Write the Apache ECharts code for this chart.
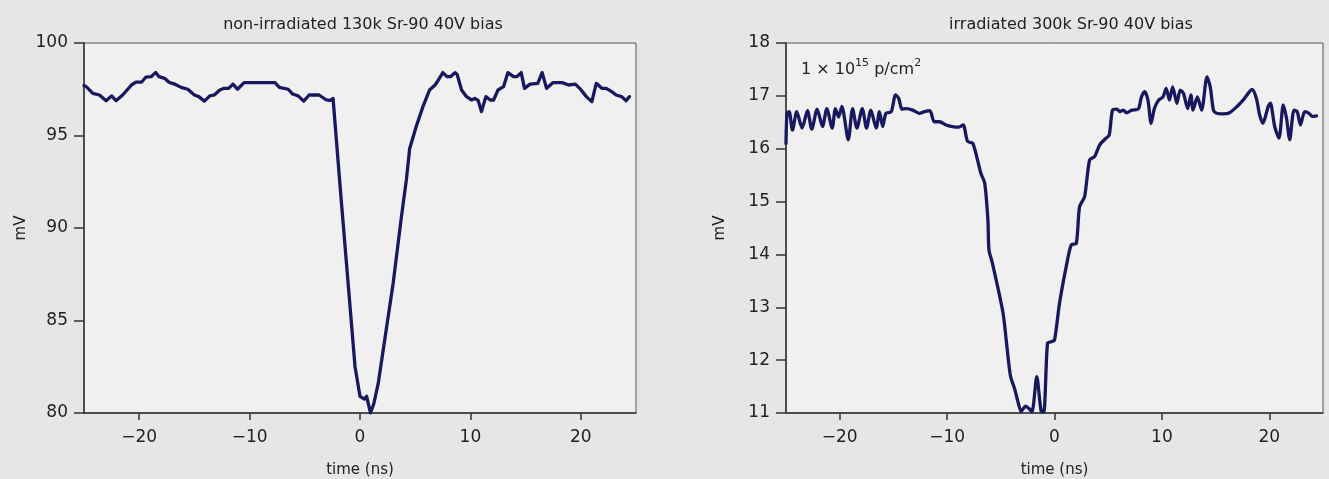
<!DOCTYPE html>
<html>
<head>
<meta charset="utf-8">
<script src="https://cdn.jsdelivr.net/npm/echarts@6/dist/echarts.min.js"></script>
<style>
html,body{margin:0;padding:0;background:#e6e6e6;}
#chart{width:1329px;height:479px;}
</style>
</head>
<body>
<div id="chart"></div>
<script>
// ---- data ----
const xTickValues = [-20, -10, 0, 10, 20];

const leftTitle = 'non-irradiated 130k Sr-90 40V bias';
const rightTitle = 'irradiated 300k Sr-90 40V bias';

const leftTime = [-25.0,-24.8,-24.2,-23.6,-23.0,-22.5,-22.1,-21.5,-20.7,-20.3,-19.8,-19.4,-18.9,-18.5,-18.2,-17.7,-17.3,-16.8,-16.2,-15.6,-15.0,-14.6,-14.1,-13.6,-13.2,-12.7,-12.3,-11.9,-11.5,-11.1,-10.5,-7.7,-7.3,-6.5,-6.1,-5.6,-5.1,-4.6,-3.7,-3.05,-2.7,-2.44,-2.3,-1.7,-0.95,-0.45,0.0,0.4,0.6,0.95,1.25,1.65,2.2,3.0,3.75,4.2,4.5,5.1,5.7,6.3,6.8,7.1,7.5,7.9,8.2,8.6,8.8,9.2,9.65,10.1,10.4,10.7,11.0,11.4,11.8,12.1,12.5,13.0,13.4,13.9,14.2,14.6,14.9,15.4,16.1,16.5,16.9,17.5,18.3,18.9,19.5,19.9,20.5,21.0,21.4,21.9,22.3,22.8,23.2,23.7,24.1,24.4];
const leftMv = [97.7,97.64,97.28,97.19,96.88,97.14,96.88,97.19,97.73,97.88,97.88,98.15,98.18,98.41,98.18,98.09,97.88,97.78,97.6,97.5,97.19,97.1,96.86,97.14,97.19,97.46,97.55,97.55,97.78,97.5,97.86,97.86,97.6,97.5,97.24,97.14,96.86,97.19,97.19,96.92,96.9,97.0,97.0,91.5,86.1,82.5,80.9,80.75,80.9,80.0,80.5,81.6,83.8,87.0,90.6,92.6,94.3,95.5,96.56,97.46,97.73,98.0,98.4,98.18,98.18,98.4,98.3,97.46,97.1,96.92,97.0,96.9,96.29,97.1,96.92,96.92,97.46,97.64,98.4,98.18,98.18,98.4,97.55,97.78,97.82,98.4,97.55,97.86,97.86,97.73,97.78,97.55,97.1,96.83,97.82,97.55,97.55,97.37,97.19,97.1,96.88,97.1];

const rightTime = [-25.0,-24.9,-24.7,-24.4,-24.0,-23.5,-23.0,-22.6,-22.1,-21.6,-21.2,-20.7,-20.4,-20.1,-19.8,-19.2,-18.8,-18.4,-17.9,-17.5,-17.1,-16.6,-16.3,-16.0,-15.7,-15.2,-14.8,-14.5,-14.2,-13.8,-13.2,-12.6,-12.1,-11.6,-11.2,-10.7,-10.1,-9.5,-8.9,-8.5,-8.1,-7.6,-6.85,-6.5,-6.2,-6.1,-5.8,-4.8,-4.4,-4.1,-3.7,-3.4,-3.1,-2.7,-2.4,-2.1,-1.65,-1.25,-1.0,-0.65,-0.3,0.0,0.47,1.09,1.56,2.03,2.33,2.8,3.27,3.73,4.2,4.8,5.1,5.4,5.8,6.1,6.4,6.7,7.2,7.8,8.1,8.4,8.7,9.0,9.3,9.7,10.1,10.4,10.7,11.0,11.4,11.7,12.0,12.4,12.7,12.9,13.3,13.7,14.2,14.5,14.8,15.1,15.7,16.3,17.0,17.6,18.4,18.8,19.1,19.4,19.9,20.1,20.5,20.9,21.3,21.6,21.9,22.3,22.6,22.9,23.3,23.7,24.0,24.4];
const rightMv = [16.1,16.67,16.70,16.35,16.70,16.39,16.72,16.37,16.75,16.42,16.76,16.39,16.76,16.6,16.80,16.17,16.76,16.39,16.76,16.39,16.73,16.39,16.70,16.42,16.67,16.70,17.02,16.95,16.75,16.76,16.73,16.67,16.70,16.72,16.51,16.51,16.45,16.42,16.41,16.45,16.14,16.1,15.53,15.35,14.65,14.08,13.85,12.9,12.2,11.7,11.45,11.21,11.03,11.13,11.09,11.02,11.69,11.04,11.02,12.32,12.35,12.38,13.08,13.77,14.18,14.21,14.9,15.09,15.79,15.85,16.07,16.2,16.26,16.73,16.75,16.70,16.73,16.68,16.73,16.75,16.98,17.08,16.92,16.48,16.76,16.92,16.98,17.14,16.92,17.17,16.86,17.11,17.05,16.76,17.02,16.73,16.98,16.73,17.36,17.17,16.73,16.67,16.66,16.68,16.80,16.93,17.12,16.95,16.64,16.48,16.80,16.86,16.42,16.20,16.83,16.58,16.17,16.73,16.70,16.45,16.70,16.67,16.61,16.62];

// ---- chart ----
const FONT = 'DejaVu Sans';
const INK = '#222';
const LINE = '#18185f';

function pair(xs, ys){ return xs.map((x,i)=>[x, ys[i]]); }
const minus = v => String(v).replace('-', '\u2212');

function xAxisCfg(gi){
  return {
    gridIndex: gi, type: 'value', min: -25, max: 25,
    name: 'time (ns)', nameLocation: 'middle', nameGap: 50,
    nameTextStyle: {fontFamily: FONT, fontSize: 15, color: INK},
    axisLine: {onZero: false, lineStyle: {color: '#333', width: 1.5}},
    axisTick: {show: true, length: 7, customValues: xTickValues, lineStyle: {color: '#333', width: 1.5}},
    axisLabel: {customValues: xTickValues, fontFamily: FONT, fontSize: 17, color: INK, margin: 16, formatter: minus},
    splitLine: {show: false}
  };
}
function yAxisCfg(gi, min, max, interval, gap){
  return {
    gridIndex: gi, type: 'value', min, max, interval,
    name: 'mV', nameLocation: 'middle', nameGap: gap, nameRotate: 90,
    nameTextStyle: {fontFamily: FONT, fontSize: 15, color: INK},
    axisLine: {show: true, onZero: false, lineStyle: {color: '#333', width: 1.5}},
    axisTick: {show: true, length: 10, lineStyle: {color: '#333', width: 1.5}},
    axisLabel: {fontFamily: FONT, fontSize: 17, color: INK, margin: 16},
    splitLine: {show: false}
  };
}

const chart = echarts.init(document.getElementById('chart'), null, {renderer: 'canvas'});
chart.setOption({
  backgroundColor: '#e6e6e6',
  animation: false,
  grid: [
    {left: 84, top: 43, width: 552, height: 370, show: true, backgroundColor: '#f0f0f0', borderColor: '#555', borderWidth: 1, outerBoundsMode: 'none', containLabel: false},
    {left: 786, top: 43, width: 537, height: 370, show: true, backgroundColor: '#f0f0f0', borderColor: '#555', borderWidth: 1, outerBoundsMode: 'none', containLabel: false}
  ],
  xAxis: [xAxisCfg(0), xAxisCfg(1)],
  yAxis: [yAxisCfg(0, 80, 100, 5, 55), yAxisCfg(1, 11, 18, 1, 58)],
  graphic: [
    {type: 'text', x: 363, y: 25, style: {text: leftTitle, fontFamily: FONT, fontSize: 16, fill: INK, align: 'center', verticalAlign: 'middle'}},
    {type: 'text', x: 1071, y: 25, style: {text: rightTitle, fontFamily: FONT, fontSize: 16, fill: INK, align: 'center', verticalAlign: 'middle'}},
    {type: 'text', x: 801, y: 68, style: {
      text: '{n|1 \u00d7 10}{s|15}{n| p/cm}{s|2}',
      align: 'left', verticalAlign: 'middle',
      rich: {
        n: {fontFamily: FONT, fontSize: 16, fill: INK, verticalAlign: 'bottom', lineHeight: 20},
        s: {fontFamily: FONT, fontSize: 11, fill: INK, verticalAlign: 'top', lineHeight: 20}
      }
    }}
  ],
  series: [
    {type: 'line', xAxisIndex: 0, yAxisIndex: 0, data: pair(leftTime, leftMv), showSymbol: false, smooth: false,
     lineStyle: {color: LINE, width: 3.3, join: 'round', cap: 'round'}, clip: true},
    {type: 'line', xAxisIndex: 1, yAxisIndex: 1, data: pair(rightTime, rightMv), showSymbol: false, smooth: 0.25,
     lineStyle: {color: LINE, width: 3.3, join: 'round', cap: 'round'}, clip: true}
  ]
});
</script>
</body>
</html>
